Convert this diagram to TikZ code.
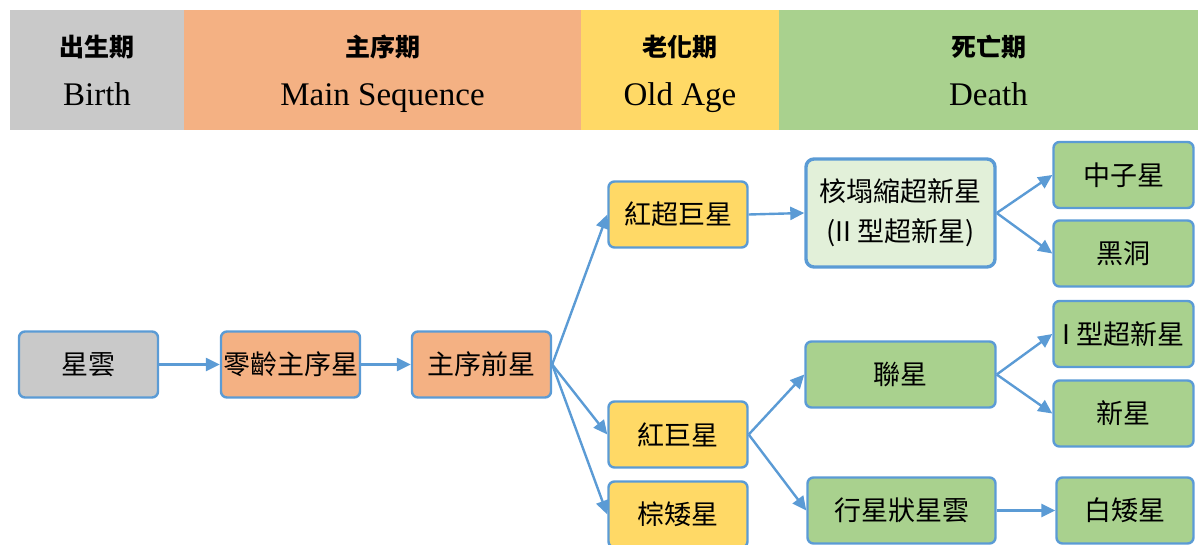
\documentclass[tikz,border=0pt]{standalone}
\usepackage{fontspec}
\setmainfont{Liberation Serif}
\newfontfamily\cjk{Noto Sans CJK TC}
\usetikzlibrary{arrows.meta}
\definecolor{hgray}{HTML}{C9C9C9}
\definecolor{horange}{HTML}{F4B183}
\definecolor{hyellow}{HTML}{FFD966}
\definecolor{hgreen}{HTML}{A9D18E}
\definecolor{lgreen}{HTML}{E2F0D9}
\definecolor{eblue}{HTML}{5B9BD5}
\tikzset{
  band/.style={draw=none,inner sep=0pt},
  htitle/.style={font=\cjk\bfseries\fontsize{25}{28}\selectfont,inner sep=0pt},
  hsub/.style={font=\fontsize{33}{36}\selectfont,inner sep=0pt,anchor=base},
  stagebox/.style={draw=eblue,line width=2.4pt,rounded corners=6pt,inner sep=0pt,
     minimum width=139pt,minimum height=66pt,font=\cjk\fontsize{27}{30}\selectfont,align=center},
  flow/.style={draw=eblue,line width=2.4pt,-{Triangle[length=14pt,width=13pt]}},
}
\begin{document}
\begin{tikzpicture}[x=1pt,y=-1pt]
\useasboundingbox (0,0) rectangle (1198,545);
\clip (0,0) rectangle (1198,545);
% header bands
\fill[hgray] (10,10) rectangle (184,130);
\fill[horange] (184,10) rectangle (581,130);
\fill[hyellow] (581,10) rectangle (779,130);
\fill[hgreen] (779,10) rectangle (1198,130);
\node[htitle] (t1) at (97,47) {出生期};
\node[htitle] (t2) at (382.5,47) {主序期};
\node[htitle] (t3) at (680,47) {老化期};
\node[htitle] (t4) at (988.5,47) {死亡期};
\node[hsub] (s1) at (97,106) {Birth};
\node[hsub] (s2) at (382.5,106) {Main Sequence};
\node[hsub] (s3) at (680,106) {Old Age};
\node[hsub] (s4) at (988.5,106) {Death};
% boxes
\node[stagebox,fill=hgray] (neb) at (88.5,364.5) {星雲};
\node[stagebox,fill=horange] (zams) at (290.5,364.5) {零齡主序星};
\node[stagebox,fill=horange] (pre) at (481.5,364.5) {主序前星};
\node[stagebox,fill=hyellow] (rsg) at (678,214.5) {紅超巨星};
\node[stagebox,fill=hyellow] (rg) at (678,434.5) {紅巨星};
\node[stagebox,fill=hyellow] (bd) at (678,514.5) {棕矮星};
\node[stagebox,fill=lgreen,line width=3.4pt,minimum width=189pt,minimum height=108pt,rounded corners=8pt] (ccsn) at (900.5,213) {核塌縮超新星\\[10pt](II 型超新星)};
\node[stagebox,fill=hgreen,minimum width=140pt] (ns) at (1123.5,175) {中子星};
\node[stagebox,fill=hgreen,minimum width=140pt] (bh) at (1123.5,253.5) {黑洞};
\node[stagebox,fill=hgreen,minimum width=190pt] (bin) at (900.5,374.5) {聯星};
\node[stagebox,fill=hgreen,minimum width=140pt] (sn1) at (1123.5,334) {I 型超新星};
\node[stagebox,fill=hgreen,minimum width=140pt] (nova) at (1123.5,413.5) {新星};
\node[stagebox,fill=hgreen,minimum width=188pt] (pn) at (901.5,510.5) {行星狀星雲};
\node[stagebox,fill=hgreen,minimum width=137pt] (wd) at (1125,510.5) {白矮星};
% connectors
\draw[flow] (neb.east) -- (zams.west);
\draw[flow] (zams.east) -- (pre.west);
\draw[flow] (pre.east) -- (rsg.west);
\draw[flow] (pre.east) -- (rg.west);
\draw[flow] (pre.east) -- (bd.west);
\draw[flow] (rsg.east) -- (ccsn.west);
\draw[flow] (ccsn.east) -- (ns.west);
\draw[flow] (ccsn.east) -- (bh.west);
\draw[flow] (rg.east) -- (bin.west);
\draw[flow] (rg.east) -- (pn.west);
\draw[flow] (bin.east) -- (sn1.west);
\draw[flow] (bin.east) -- (nova.west);
\draw[flow] (pn.east) -- (wd.west);
\end{tikzpicture}
\end{document}
